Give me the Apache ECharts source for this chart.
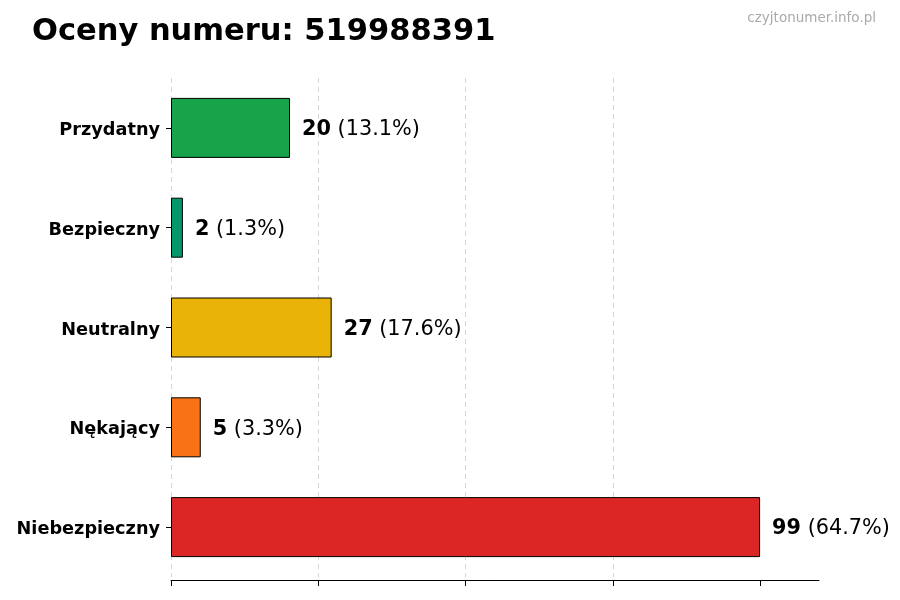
<!DOCTYPE html>
<html><head><meta charset="utf-8">
<script src="https://cdn.jsdelivr.net/npm/echarts@6/dist/echarts.min.js"></script>
<style>html,body{margin:0;padding:0;background:#fff}#c{width:900px;height:600px}</style>
</head><body><div id="c"></div>
<script>
const categories = ['Przydatny', 'Bezpieczny', 'Neutralny', 'Nękający', 'Niebezpieczny'];
const values = [20, 2, 27, 5, 99];
const barColors = ['#16a34a', '#059669', '#eab308', '#f97316', '#dc2626'];
const xTicks = [0, 24.75, 49.5, 74.25, 99];
const titleText = 'Oceny numeru: 519988391';
const watermark = 'czyjtonumer.info.pl';

const total = values.reduce((a, b) => a + b, 0);
const FONT = 'DejaVu Sans';
const chart = echarts.init(document.getElementById('c'), null, {renderer: 'canvas'});
chart.setOption({
  animation: false,
  backgroundColor: '#fff',
  graphic: [
    {type: 'text', left: 32, top: 17, style: {text: titleText, font: 'bold 30.5px "DejaVu Sans"', fill: '#000'}},
    {type: 'text', right: 24, top: 11, style: {text: watermark, font: '13.5px "DejaVu Sans"', fill: '#aaaaaa'}}
  ],
  grid: {left: 171, right: 81, top: 78, bottom: 23, containLabel: false},
  xAxis: {
    type: 'value', min: 0, max: 108.9, interval: 24.75, offset: 3,
    axisLabel: {show: false},
    axisLine: {show: true, lineStyle: {color: '#000', width: 1}},
    axisTick: {show: true, length: 6, customValues: xTicks, lineStyle: {color: '#000'}},
    splitLine: {show: true, showMaxLine: false, lineStyle: {color: '#cccccc', type: [5, 4], width: 0.8}}
  },
  yAxis: {
    type: 'category', inverse: true, data: categories,
    axisLine: {show: false},
    axisTick: {show: true, alignWithLabel: true, length: 5, lineStyle: {color: '#000'}},
    axisLabel: {
      margin: 11,
      formatter: v => `{c|${v}}`,
      rich: {c: {color: '#000', fontFamily: FONT, fontWeight: 'bold', fontSize: 17.7, padding: [5, 0, 0, 0]}}
    },
    splitLine: {show: false}
  },
  series: [{
    type: 'bar', barWidth: 60,
    data: values.map((v, i) => ({value: v, itemStyle: {color: barColors[i]}})),
    itemStyle: {borderColor: '#000', borderWidth: 1},
    label: {
      show: true, position: 'right', distance: 12, offset: [0, 2],
      formatter: p => `{b|${p.value}}{n| (${(p.value / total * 100).toFixed(1)}%)}`,
      rich: {
        b: {fontFamily: FONT, fontWeight: 'bold', fontSize: 20.8, color: '#000'},
        n: {fontFamily: FONT, fontSize: 20.8, color: '#000'}
      }
    }
  }]
});
</script></body></html>
